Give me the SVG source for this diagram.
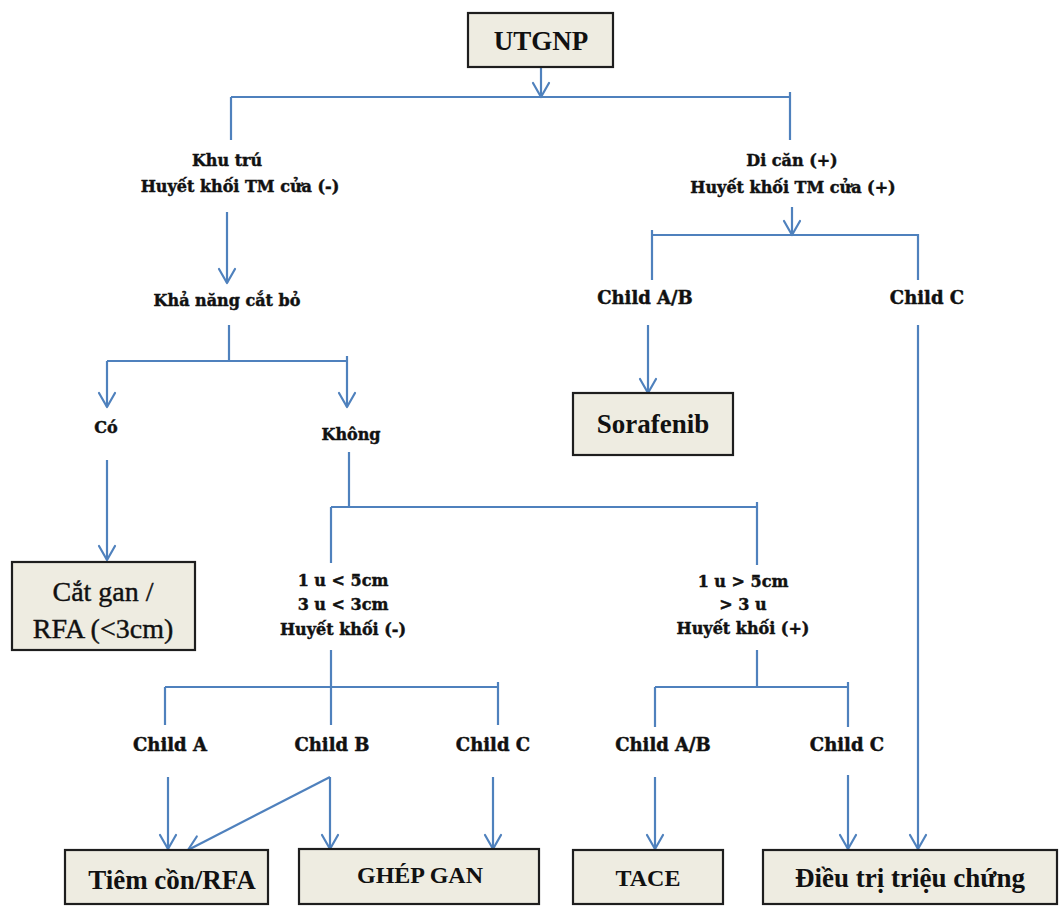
<svg xmlns="http://www.w3.org/2000/svg" width="1059" height="906" viewBox="0 0 1059 906">
  <defs>
    <marker id="chev" markerUnits="userSpaceOnUse" markerWidth="30" markerHeight="30" refX="0" refY="0" orient="auto" overflow="visible">
      <path d="M-14,-8 L0,0 L-14,8" fill="none" stroke="#4f81bd" stroke-width="2.2" stroke-linecap="round" stroke-linejoin="round"/>
    </marker>
    <style>
      .ln { fill: none; stroke: #4f81bd; stroke-width: 2.2; }
      .ar { fill: none; stroke: #4f81bd; stroke-width: 2.2; marker-end: url(#chev); }
      .box { fill: #eeece1; stroke: #1e1e1e; stroke-width: 2.2; }
      .lbl { font-family: "DejaVu Serif", serif; font-weight: bold; font-size: 16px; fill: #111; stroke: #111; stroke-width: 0.45; text-anchor: middle; }
      .ch { font-size: 18px; }
      .bt { font-family: "Liberation Serif", "DejaVu Serif", serif; font-weight: bold; fill: #111; text-anchor: middle; }
      .bt-n { font-family: "Liberation Serif", "DejaVu Serif", serif; font-weight: normal; fill: #111; stroke: #111; stroke-width: 0.4; text-anchor: middle; }
    </style>
  </defs>
  <rect width="1059" height="906" fill="#ffffff"/>

  <!-- connectors -->
  <g id="connectors">
    <path class="ar" d="M541,67 V97"/>
    <path class="ln" d="M231,97 H790 M231,97 V140 M790,92 V140"/>

    <path class="ar" d="M227,212 V283"/>
    <path class="ln" d="M229,325 V361 M107,361 H347"/>
    <path class="ar" d="M107,361 V407"/>
    <path class="ar" d="M347,356 V407"/>
    <path class="ar" d="M107,460 V560"/>

    <path class="ln" d="M349,452 V507 M331,507 H757 M331,507 V563 M757,502 V565"/>
    <path class="ln" d="M331,650 V725 M165,687 H498 M165,687 V725 M498,682 V725"/>
    <path class="ar" d="M168,777 V849"/>
    <path class="ar" d="M330,777 V849"/>
    <path class="ar" d="M330,777 L188,850"/>
    <path class="ar" d="M493,777 V849"/>

    <path class="ar" d="M792,207 V235"/>
    <path class="ln" d="M652,230 V280 M652,235 H918 V280"/>
    <path class="ar" d="M648,325 V393"/>
    <path class="ar" d="M918,325 V849"/>

    <path class="ln" d="M757,650 V687 M655,687 H848 M655,687 V727 M848,682 V727"/>
    <path class="ar" d="M655,777 V849"/>
    <path class="ar" d="M848,775 V849"/>
  </g>

  <!-- nodes -->
  <g id="n-utgnp">
    <rect class="box" x="468" y="13" width="145" height="54"/>
    <text class="bt" x="541" y="50" font-size="27">UTGNP</text>
  </g>
  <g id="n-khutru">
    <text class="lbl" x="227" y="166">Khu trú</text>
    <text class="lbl" x="240" y="192">Huyết khối TM cửa (-)</text>
  </g>
  <g id="n-dican">
    <text class="lbl" x="792" y="166">Di căn (+)</text>
    <text class="lbl" x="793" y="193">Huyết khối TM cửa (+)</text>
  </g>
  <g id="n-khanang">
    <text class="lbl" x="227" y="306">Khả năng cắt bỏ</text>
  </g>
  <g id="n-co">
    <text class="lbl" x="106" y="433">Có</text>
  </g>
  <g id="n-khong">
    <text class="lbl" x="351" y="440">Không</text>
  </g>
  <g id="n-catgan">
    <rect class="box" x="12" y="562" width="183" height="88"/>
    <text class="bt-n" x="103" y="601" font-size="28">Cắt gan /</text>
    <text class="bt-n" x="103" y="638" font-size="28">RFA (&lt;3cm)</text>
  </g>
  <g id="n-child-ab-top">
    <text class="lbl ch" x="645" y="304">Child A/B</text>
  </g>
  <g id="n-child-c-top">
    <text class="lbl ch" x="927" y="304">Child C</text>
  </g>
  <g id="n-sorafenib">
    <rect class="box" x="573" y="393" width="160" height="62"/>
    <text class="bt" x="653" y="433" font-size="27">Sorafenib</text>
  </g>
  <g id="n-small">
    <text class="lbl" x="343" y="586">1 u &lt; 5cm</text>
    <text class="lbl" x="343" y="610">3 u &lt; 3cm</text>
    <text class="lbl" x="343" y="635">Huyết khối (-)</text>
  </g>
  <g id="n-large">
    <text class="lbl" x="743" y="587">1 u &gt; 5cm</text>
    <text class="lbl" x="743" y="610">&gt; 3 u</text>
    <text class="lbl" x="743" y="634">Huyết khối (+)</text>
  </g>
  <g id="n-child-a">
    <text class="lbl ch" x="170" y="751">Child A</text>
  </g>
  <g id="n-child-b">
    <text class="lbl ch" x="332" y="751">Child B</text>
  </g>
  <g id="n-child-c">
    <text class="lbl ch" x="493" y="751">Child C</text>
  </g>
  <g id="n-child-ab-low">
    <text class="lbl ch" x="663" y="751">Child A/B</text>
  </g>
  <g id="n-child-c-low">
    <text class="lbl ch" x="847" y="751">Child C</text>
  </g>
  <g id="n-tiemcon">
    <rect class="box" x="65" y="850" width="203" height="54"/>
    <text class="bt" x="172" y="889" font-size="27">Tiêm cồn/RFA</text>
  </g>
  <g id="n-ghepgan">
    <rect class="box" x="299" y="849" width="240" height="55"/>
    <text class="bt" x="420" y="883" font-size="24">GHÉP GAN</text>
  </g>
  <g id="n-tace">
    <rect class="box" x="573" y="850" width="150" height="54"/>
    <text class="bt" x="648" y="886" font-size="24">TACE</text>
  </g>
  <g id="n-dieutri">
    <rect class="box" x="763" y="850" width="294" height="54"/>
    <text class="bt" x="910" y="887" font-size="27">Điều trị triệu chứng</text>
  </g>
</svg>
